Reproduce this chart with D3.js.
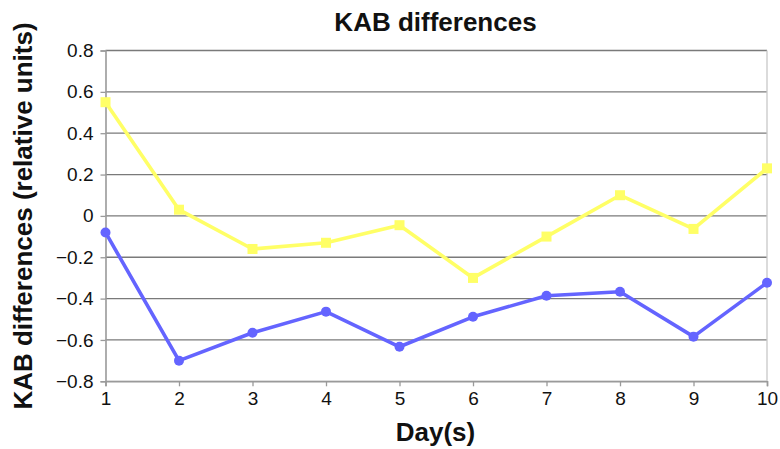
<!DOCTYPE html>
<html><head><meta charset="utf-8">
<script src="https://cdn.jsdelivr.net/npm/d3@7"></script>
<style>body{margin:0;background:#fff;}text{font-family:"Liberation Sans",Arial,sans-serif;}</style>
</head><body><svg id="c" width="780" height="449"></svg>
<script>
const days = [1,2,3,4,5,6,7,8,9,10];
const seriesYellow = [0.55,0.03,-0.16,-0.13,-0.045,-0.30,-0.10,0.10,-0.063,0.23];
const seriesBlue = [-0.08,-0.70,-0.565,-0.463,-0.633,-0.488,-0.386,-0.367,-0.584,-0.323];
const yTicks = [0.8,0.6,0.4,0.2,0,-0.2,-0.4,-0.6,-0.8];
const yTickLabels = ["0.8","0.6","0.4","0.2","0","\u22120.2","\u22120.4","\u22120.6","\u22120.8"];

const svg = d3.select("#c");
const L=105.5, R=767, T=50.5, B=381.3;
const x = d3.scaleLinear().domain([1,10]).range([L,R]);
const y = d3.scaleLinear().domain([-0.8,0.8]).range([B,T]);

// gridlines
svg.append("g").selectAll("line").data(yTicks).join("line")
  .attr("x1",L).attr("x2",R).attr("y1",d=>y(d)).attr("y2",d=>y(d))
  .attr("stroke","#7a7a7a").attr("stroke-width",1.3);
// right border
svg.append("line").attr("x1",R).attr("x2",R).attr("y1",T).attr("y2",B).attr("stroke","#c8c8c8").attr("stroke-width",1.3);

// y axis
const ya = svg.append("g").attr("transform",`translate(${L},0)`)
  .call(d3.axisLeft(y).tickValues(yTicks).tickSize(5).tickPadding(7).tickFormat((d,i)=>yTickLabels[i]));
ya.select(".domain").attr("stroke","#9a9a9a").attr("stroke-width",1.6);
ya.selectAll(".tick line").attr("stroke","#9a9a9a").attr("stroke-width",1.3);
ya.selectAll("text").attr("font-size",19).attr("fill","#111").style("font-family","Liberation Sans, Arial, sans-serif");

// x axis
const xa = svg.append("g").attr("transform",`translate(0,${B})`)
  .call(d3.axisBottom(x).tickValues(days).tickSize(5).tickPadding(5).tickFormat(d3.format("d")));
xa.select(".domain").attr("stroke","#9a9a9a").attr("stroke-width",1.6);
xa.selectAll(".tick line").attr("stroke","#9a9a9a").attr("stroke-width",1.3);
xa.selectAll("text").attr("font-size",19).attr("fill","#111").style("font-family","Liberation Sans, Arial, sans-serif");

const line = d3.line().x((d,i)=>x(days[i])).y(d=>y(d));
// yellow series
svg.append("path").datum(seriesYellow).attr("d",line).attr("fill","none")
  .attr("stroke","#ffff66").attr("stroke-width",3.6).attr("stroke-linejoin","round");
svg.append("g").selectAll("rect").data(seriesYellow).join("rect")
  .attr("x",(d,i)=>x(days[i])-5).attr("y",d=>y(d)-5).attr("width",10).attr("height",10)
  .attr("fill","#ffff66");
// blue series
svg.append("path").datum(seriesBlue).attr("d",line).attr("fill","none")
  .attr("stroke","#6464ff").attr("stroke-width",3.6).attr("stroke-linejoin","round");
svg.append("g").selectAll("circle").data(seriesBlue).join("circle")
  .attr("cx",(d,i)=>x(days[i])).attr("cy",d=>y(d)).attr("r",5).attr("fill","#6464ff");

// titles
svg.append("text").attr("x",435.5).attr("y",31).attr("text-anchor","middle")
  .attr("font-size",26).attr("font-weight","bold").attr("fill","#111").text("KAB differences");
svg.append("text").attr("x",435.5).attr("y",441).attr("text-anchor","middle")
  .attr("font-size",26).attr("font-weight","bold").attr("fill","#111").text("Day(s)");
svg.append("text").attr("transform","translate(32,216) rotate(-90)").attr("text-anchor","middle")
  .attr("font-size",26).attr("font-weight","bold").attr("fill","#111").text("KAB differences (relative units)");
</script></body></html>
